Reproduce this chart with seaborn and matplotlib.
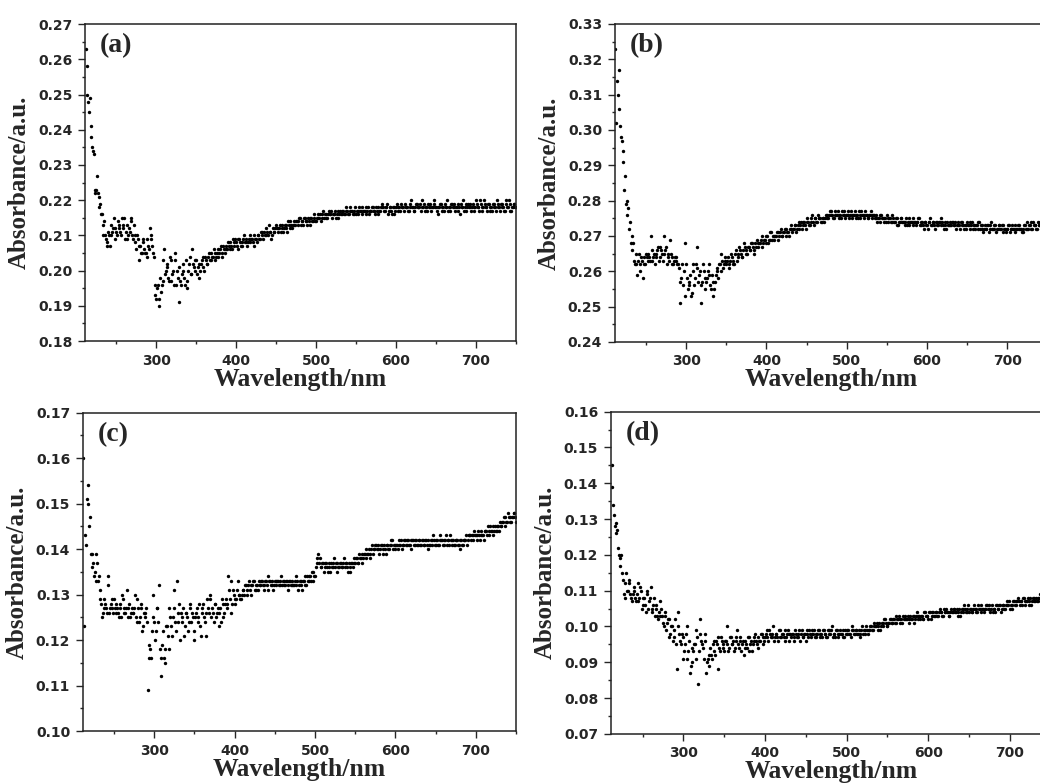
import numpy as np
import pandas as pd
import seaborn as sns
import matplotlib.pyplot as plt
from matplotlib.ticker import MultipleLocator, FormatStrFormatter

# wavelength grid of the scans (nm): even and odd points
wl_even = np.arange(212, 751, 2)
wl_odd = np.arange(213, 750, 2)

# absorbance, in 0.001 a.u. (rows of 10 points)
abs_a = [
    263, 250, 245, 241, 235, 233, 223, 227, 221, 219,
    216, 213, 210, 208, 211, 207, 210, 212, 209, 211,
    214, 212, 210, 213, 215, 211, 209, 212, 215, 210,
    213, 208, 210, 203, 207, 205, 209, 205, 204, 207,
    212, 209, 205, 196, 192, 196, 190, 194, 197, 206,
    200, 202, 197, 203, 199, 196, 205, 200, 191, 197,
    199, 202, 196, 195, 200, 204, 199, 202, 200, 203,
    201, 198, 202, 204, 200, 203, 202, 205, 203, 204,
    206, 203, 205, 204, 206, 204, 207, 205, 206, 208,
    206, 207, 209, 207, 208, 206, 209, 207, 208, 210,
    208, 207, 209, 208, 209, 207, 209, 208, 210, 209,
    211, 209, 210, 212, 210, 211, 209, 212, 211, 213,
    211, 212, 211, 213, 212, 213, 211, 213, 214, 212,
    214, 213, 214, 213, 215, 214, 213, 215, 214, 215,
    213, 215, 214, 215, 214, 216, 215, 214, 216, 215,
    216, 215, 217, 216, 215, 216, 217, 216, 215, 217,
    216, 217, 216, 217, 216, 218, 217, 216, 217, 216,
    217, 218, 217, 216, 217, 218, 217, 216, 217, 218,
    217, 216, 217, 218, 217, 219, 218, 217, 218, 216,
    218, 217, 218, 216, 218, 217, 218, 219, 218, 217,
    218, 218, 217, 219, 218, 217, 218, 219, 218, 219,
    220, 218, 217, 218, 219, 218, 217, 218, 219, 218,
    216, 218, 219, 218, 217, 218, 220, 218, 217, 219,
    218, 217, 218, 219, 216, 218, 220, 218, 217, 219,
    218, 217, 219, 218, 220, 218, 217, 219, 218, 220,
    218, 217, 219, 218, 217, 219, 218, 220, 218, 217,
    219, 218, 217, 220, 218, 219, 217, 218, 219, 218,
]
abs_a_odd = [
    258, 248, 249, 238, 234, 222, 223, 222, 218, 216,
    210, 214, 209, 207, 210, 213, 211, 215, 212, 210,
    213, 211, 215, 212, 209, 213, 210, 211, 214, 209,
    210, 206, 209, 207, 205, 208, 206, 205, 209, 206,
    210, 207, 204, 193, 195, 192, 198, 196, 203, 199,
    201, 198, 204, 197, 200, 203, 196, 198, 201, 196,
    200, 198, 203, 197, 202, 199, 206, 201, 203, 199,
    202, 200, 203, 201, 204, 202, 204, 203, 205, 204,
    205, 204, 206, 205, 207, 205, 206, 207, 206, 207,
    208, 206, 208, 209, 207, 209, 208, 207, 209, 208,
    209, 208, 210, 209, 208, 210, 209, 210, 209, 211,
    210, 211, 210, 211, 213, 211, 210, 211, 212, 212,
    212, 213, 212, 211, 213, 212, 214, 212, 213, 213,
    213, 214, 214, 215, 213, 214, 215, 214, 213, 214,
    215, 214, 216, 214, 215, 215, 216, 215, 217, 216,
    215, 216, 216, 217, 216, 216, 215, 217, 216, 216,
    217, 216, 218, 217, 216, 217, 217, 216, 218, 217,
    216, 217, 218, 217, 217, 216, 218, 217, 217, 218,
    217, 218, 216, 217, 218, 218, 217, 218, 219, 217,
    218, 216, 218, 217, 219, 218, 217, 218, 218, 219,
    218, 217, 218, 220, 218, 217, 219, 218, 218, 217,
    218, 219, 218, 217, 218, 219, 218, 220, 218, 217,
    218, 219, 217, 218, 219, 218, 217, 218, 219, 218,
    219, 218, 217, 218, 219, 218, 217, 219, 218, 218,
    219, 218, 217, 218, 219, 218, 220, 217, 218, 219,
    218, 219, 217, 218, 219, 218, 217, 219, 218, 219,
    218, 217, 219, 218, 220, 217, 218, 219, 218,
]

abs_b = [
    323, 314, 317, 301, 297, 291, 287, 280, 278, 274,
    270, 268, 262, 265, 263, 260, 264, 258, 262, 265,
    263, 264, 270, 263, 265, 264, 266, 263, 267, 265,
    270, 266, 262, 265, 269, 264, 262, 264, 263, 262,
    251, 258, 256, 268, 262, 255, 257, 253, 260, 256,
    262, 267, 259, 251, 257, 260, 255, 258, 262, 256,
    259, 253, 257, 260, 258, 262, 265, 261, 263, 262,
    264, 261, 265, 263, 262, 266, 264, 267, 265, 264,
    268, 266, 265, 267, 266, 268, 266, 268, 269, 267,
    268, 270, 268, 269, 270, 268, 269, 271, 270, 269,
    270, 271, 270, 272, 270, 271, 272, 271, 270, 272,
    271, 272, 273, 272, 274, 273, 272, 274, 273, 275,
    274, 273, 275, 274, 275, 274, 276, 275, 274, 275,
    274, 276, 275, 276, 277, 276, 275, 277, 276, 275,
    276, 277, 276, 275, 276, 277, 276, 275, 276, 277,
    276, 275, 276, 277, 276, 275, 276, 275, 276, 277,
    275, 276, 275, 274, 275, 276, 275, 274, 275, 276,
    274, 275, 274, 275, 274, 275, 273, 274, 275, 274,
    273, 275, 274, 273, 274, 275, 274, 273, 274, 275,
    273, 274, 272, 274, 273, 274, 275, 273, 274, 272,
    274, 273, 274, 275, 273, 274, 272, 273, 274, 273,
    274, 273, 272, 274, 273, 274, 273, 272, 273, 274,
    273, 272, 274, 273, 272, 273, 274, 272, 273, 271,
    273, 272, 273, 272, 274, 272, 273, 271, 272, 273,
    272, 273, 272, 271, 272, 273, 272, 273, 272, 271,
    272, 273, 272, 271, 272, 273, 274, 272, 273, 272,
    274, 273, 272, 274, 273, 272, 273, 274, 273, 272,
]
abs_b_odd = [
    302, 310, 306, 298, 294, 283, 279, 276, 272, 268,
    266, 263, 262, 259, 265, 262, 263, 264, 262, 264,
    265, 263, 266, 264, 262, 265, 267, 264, 266, 263,
    265, 267, 264, 263, 265, 262, 263, 264, 262, 261,
    257, 262, 260, 253, 258, 256, 259, 254, 262, 258,
    261, 257, 260, 256, 262, 258, 257, 260, 259, 255,
    257, 255, 259, 261, 262, 260, 263, 262, 264, 263,
    262, 263, 264, 262, 265, 263, 265, 266, 264, 266,
    267, 265, 267, 266, 268, 267, 265, 267, 268, 268,
    269, 267, 269, 268, 270, 269, 271, 269, 270, 270,
    271, 269, 271, 270, 271, 272, 270, 271, 272, 273,
    272, 273, 271, 273, 272, 274, 273, 274, 272, 274,
    273, 274, 276, 273, 275, 274, 275, 275, 274, 275,
    275, 276, 275, 277, 276, 275, 276, 276, 277, 276,
    275, 276, 277, 276, 276, 275, 277, 276, 276, 275,
    276, 277, 275, 276, 276, 277, 276, 275, 276, 276,
    276, 275, 276, 275, 274, 276, 275, 275, 274, 275,
    275, 274, 276, 274, 275, 273, 274, 275, 274, 274,
    274, 273, 275, 274, 274, 273, 274, 274, 275, 273,
    274, 273, 274, 273, 272, 274, 273, 274, 273, 274,
    273, 274, 273, 274, 272, 273, 274, 273, 273, 274,
    273, 274, 273, 273, 272, 274, 273, 273, 272, 273,
    274, 273, 272, 273, 273, 272, 274, 273, 272, 272,
    272, 273, 271, 273, 272, 272, 273, 272, 273, 272,
    273, 271, 272, 272, 273, 271, 272, 272, 273, 272,
    273, 272, 272, 271, 273, 272, 272, 273, 274, 272,
    273, 273, 272, 273, 274, 273, 272, 273, 274,
]

abs_c = [
    160, 143, 151, 154, 147, 139, 137, 135, 139, 133,
    131, 128, 126, 129, 127, 134, 126, 128, 127, 129,
    126, 127, 125, 128, 130, 127, 126, 131, 127, 125,
    127, 126, 130, 124, 127, 125, 128, 123, 126, 127,
    109, 119, 116, 130, 124, 122, 127, 132, 112, 119,
    116, 115, 123, 118, 125, 121, 131, 124, 133, 126,
    120, 125, 127, 123, 126, 122, 128, 124, 125, 120,
    126, 124, 128, 121, 127, 125, 121, 129, 126, 130,
    127, 124, 128, 126, 123, 127, 129, 125, 128, 127,
    134, 129, 126, 131, 128, 129, 133, 130, 129, 131,
    130, 132, 131, 133, 130, 132, 133, 131, 132, 133,
    132, 133, 131, 133, 132, 134, 133, 132, 131, 133,
    132, 133, 132, 134, 133, 132, 133, 131, 133, 132,
    133, 132, 134, 133, 132, 133, 131, 133, 132, 134,
    133, 134, 135, 133, 134, 137, 139, 138, 136, 137,
    136, 137, 135, 136, 137, 136, 138, 137, 135, 136,
    137, 136, 138, 137, 136, 137, 135, 137, 138, 137,
    138, 137, 138, 139, 138, 139, 140, 139, 138, 140,
    139, 140, 141, 140, 139, 141, 140, 141, 139, 141,
    140, 141, 142, 141, 140, 141, 142, 141, 140, 141,
    142, 141, 142, 141, 140, 142, 141, 142, 141, 142,
    141, 142, 141, 142, 140, 141, 142, 141, 142, 141,
    142, 141, 143, 142, 141, 142, 141, 142, 143, 141,
    142, 141, 142, 141, 140, 142, 141, 142, 143, 142,
    143, 142, 143, 144, 143, 142, 143, 144, 143, 142,
    144, 143, 144, 145, 144, 143, 145, 144, 145, 146,
    145, 146, 147, 146, 148, 147, 146, 147, 148, 146,
]
abs_c_odd = [
    123, 141, 150, 145, 139, 136, 134, 133, 137, 134,
    129, 125, 127, 128, 126, 132, 127, 129, 126, 127,
    128, 126, 127, 125, 129, 126, 127, 125, 128, 126,
    126, 127, 125, 129, 124, 127, 122, 126, 125, 124,
    116, 118, 122, 125, 120, 127, 124, 118, 116, 122,
    118, 123, 121, 127, 123, 125, 127, 122, 124, 128,
    126, 124, 121, 126, 125, 124, 127, 126, 122, 125,
    127, 125, 123, 126, 128, 124, 126, 127, 129, 125,
    126, 128, 125, 127, 126, 124, 128, 126, 129, 128,
    131, 133, 128, 130, 129, 131, 130, 129, 130, 131,
    132, 130, 132, 131, 132, 133, 131, 132, 131, 132,
    133, 132, 132, 133, 131, 133, 132, 133, 132, 133,
    133, 132, 133, 132, 133, 132, 133, 132, 133, 132,
    132, 133, 132, 131, 133, 132, 133, 134, 132, 133,
    134, 133, 135, 134, 136, 138, 137, 136, 137, 135,
    137, 136, 137, 135, 136, 137, 136, 137, 136, 137,
    136, 137, 136, 137, 135, 136, 137, 136, 137, 138,
    137, 139, 138, 137, 139, 138, 139, 140, 139, 141,
    140, 141, 140, 141, 140, 141, 139, 140, 141, 140,
    141, 142, 140, 141, 141, 140, 141, 142, 141, 142,
    141, 142, 141, 142, 142, 141, 142, 141, 142, 141,
    142, 141, 142, 141, 142, 141, 142, 143, 141, 142,
    141, 142, 142, 141, 142, 143, 142, 141, 142, 142,
    141, 142, 142, 141, 142, 141, 142, 142, 141, 143,
    143, 143, 142, 143, 143, 144, 142, 143, 143, 144,
    144, 145, 143, 144, 145, 144, 144, 145, 144, 145,
    146, 147, 145, 146, 147, 146, 147, 148, 147,
]

abs_d = [
    145, 134, 128, 126, 122, 117, 120, 113, 108, 115,
    110, 112, 108, 109, 111, 107, 112, 108, 110, 106,
    108, 104, 110, 107, 111, 105, 108, 106, 103, 104,
    107, 103, 100, 104, 101, 102, 98, 100, 97, 102,
    88, 104, 96, 98, 91, 95, 100, 93, 87, 90,
    93, 95, 99, 84, 102, 96, 94, 98, 87, 91,
    89, 92, 95, 93, 96, 88, 94, 97, 95, 93,
    96, 100, 94, 97, 95, 93, 96, 99, 94, 97,
    95, 92, 96, 94, 97, 95, 93, 96, 98, 95,
    97, 96, 98, 95, 97, 99, 96, 98, 97, 100,
    97, 98, 96, 99, 97, 98, 96, 97, 99, 98,
    97, 98, 96, 98, 97, 99, 98, 97, 98, 96,
    98, 99, 97, 98, 99, 97, 98, 99, 98, 97,
    99, 98, 97, 99, 98, 100, 98, 97, 99, 98,
    99, 98, 97, 99, 98, 99, 98, 100, 99, 98,
    99, 98, 97, 99, 98, 99, 100, 98, 99, 100,
    99, 101, 100, 99, 101, 100, 101, 102, 101, 100,
    101, 102, 101, 102, 101, 102, 103, 102, 101, 102,
    103, 102, 101, 103, 102, 103, 102, 104, 103, 102,
    103, 102, 104, 103, 102, 104, 103, 104, 103, 104,
    103, 105, 104, 103, 104, 105, 104, 103, 105, 104,
    105, 104, 103, 105, 104, 105, 106, 104, 105, 104,
    105, 104, 106, 105, 104, 105, 106, 105, 104, 105,
    106, 105, 104, 106, 105, 104, 106, 105, 106, 105,
    106, 105, 107, 106, 105, 106, 107, 106, 107, 108,
    106, 107, 108, 106, 107, 108, 107, 106, 108, 107,
    108, 107, 108, 109, 107, 108, 109, 108, 107, 108,
]
abs_d_odd = [
    139, 131, 129, 127, 120, 119, 115, 109, 112, 110,
    113, 109, 107, 110, 108, 109, 107, 111, 105, 108,
    106, 109, 105, 108, 104, 106, 103, 105, 102, 103,
    105, 101, 103, 99, 102, 97, 100, 96, 99, 95,
    100, 98, 95, 97, 93, 98, 91, 96, 89, 94,
    95, 91, 97, 93, 98, 95, 91, 96, 90, 92,
    94, 91, 96, 92, 95, 97, 93, 96, 94, 96,
    95, 93, 97, 95, 96, 94, 97, 95, 96, 93,
    96, 94, 95, 97, 93, 96, 95, 97, 96, 94,
    96, 98, 97, 96, 98, 97, 99, 97, 98, 96,
    98, 97, 99, 97, 98, 97, 99, 98, 96, 98,
    98, 97, 99, 97, 98, 96, 99, 97, 98, 99,
    97, 98, 99, 98, 97, 98, 99, 97, 98, 99,
    98, 97, 99, 98, 99, 97, 98, 99, 97, 98,
    98, 99, 97, 98, 99, 98, 97, 99, 98, 99,
    98, 99, 98, 100, 99, 98, 99, 99, 100, 99,
    100, 100, 101, 100, 99, 101, 100, 102, 100, 101,
    102, 101, 102, 101, 103, 102, 101, 102, 103, 102,
    102, 103, 102, 102, 103, 101, 103, 102, 103, 103,
    102, 104, 103, 103, 104, 102, 104, 103, 104, 103,
    104, 104, 103, 105, 104, 104, 103, 104, 104, 105,
    104, 105, 104, 103, 105, 104, 105, 104, 106, 105,
    104, 105, 105, 104, 106, 105, 104, 105, 105, 106,
    105, 106, 105, 104, 105, 106, 105, 106, 104, 106,
    105, 106, 106, 107, 106, 105, 107, 106, 107, 107,
    107, 106, 108, 107, 107, 106, 108, 107, 108, 107,
    107, 108, 109, 107, 108, 108, 107, 108, 109,
]

panel_labels = ['(a)', '(b)', '(c)', '(d)']
y_limits = [(0.18, 0.27), (0.24, 0.33), (0.10, 0.17), (0.07, 0.16)]
series = [(abs_a, abs_a_odd), (abs_b, abs_b_odd), (abs_c, abs_c_odd), (abs_d, abs_d_odd)]

sns.set_style('ticks')
plt.rcParams['font.family'] = ['DejaVu Sans']
plt.rcParams['font.weight'] = 'bold'

fig = plt.figure(figsize=(10.4, 7.84), dpi=100)

# axes boxes in figure fractions; the right column runs past the image edge
boxes = [
    [0.0817, 0.565, 0.4144, 0.4043],
    [0.5910, 0.5638, 0.4162, 0.4056],
    [0.0795, 0.0676, 0.4166, 0.4060],
    [0.5872, 0.0640, 0.4231, 0.4110],
]

for label, (even, odd), ylim, box in zip(panel_labels, series, y_limits, boxes):
    ax = fig.add_axes(box)
    df = pd.DataFrame({
        'Wavelength': np.concatenate([wl_even, wl_odd]),
        'Absorbance': np.concatenate([even, odd]) / 1000,
    })
    sns.scatterplot(data=df, x='Wavelength', y='Absorbance', ax=ax,
                    color='black', s=6, linewidth=0)
    ax.set_xlim(211, 750)
    ax.set_ylim(*ylim)
    ax.xaxis.set_major_locator(MultipleLocator(100))
    ax.xaxis.set_minor_locator(MultipleLocator(50))
    ax.yaxis.set_major_locator(MultipleLocator(0.01))
    ax.yaxis.set_minor_locator(MultipleLocator(0.005))
    ax.yaxis.set_major_formatter(FormatStrFormatter('%.2f'))
    ax.tick_params(which='major', direction='out', length=5, width=1, labelsize=10, pad=4)
    ax.tick_params(which='minor', direction='out', length=2.5, width=1)
    for sp in ax.spines.values():
        sp.set_linewidth(1.1)
        sp.set_color('#222222')
    ax.set_xlabel('Wavelength/nm', family='Liberation Serif', fontsize=18.5,
                  fontweight='bold', labelpad=0)
    ax.set_ylabel('Absorbance/a.u.', family='Liberation Serif', fontsize=18,
                  fontweight='bold', labelpad=5)
    ax.text(0.035, 0.97, label, transform=ax.transAxes, ha='left', va='top',
            family='Liberation Serif', fontsize=20, fontweight='bold')

fig.savefig('out.png', dpi=100)
